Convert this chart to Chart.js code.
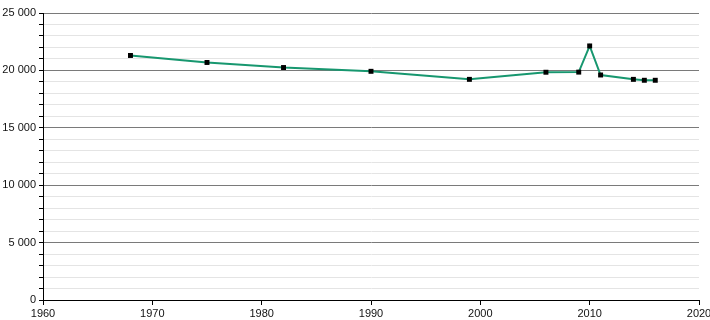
<!DOCTYPE html>
<html><head><meta charset="utf-8">
<script src="https://cdn.jsdelivr.net/npm/chart.js@4/dist/chart.umd.min.js"></script>
<style>html,body{margin:0;padding:0;background:#fff}#w{width:710px;height:320px}</style>
</head><body><div id="w"><canvas id="c"></canvas></div>
<script>
const years = [1968, 1975, 1982, 1990, 1999, 2006, 2009, 2010, 2011, 2014, 2015, 2016];
const population = [21300, 20690, 20250, 19920, 19220, 19840, 19850, 22130, 19600, 19220, 19140, 19140];
const xTicks = [1960, 1970, 1980, 1990, 2000, 2010, 2020];
const yMajorStep = 5000;
const yMinorStep = 1000;

const fmt = v => String(v).replace(/\B(?=(\d{3})+(?!\d))/g, ' ');
Chart.defaults.font.family = '"Liberation Sans", Arial, sans-serif';
Chart.defaults.font.size = 11;
Chart.defaults.color = '#111';

new Chart(document.getElementById('c'), {
  type: 'scatter',
  data: {
    datasets: [{
      data: years.map((y, i) => ({x: y, y: population[i]})),
      showLine: true,
      borderColor: '#17976f',
      borderWidth: 2,
      pointStyle: 'rect',
      pointRadius: 3.5,
      pointBackgroundColor: '#000',
      pointBorderColor: '#000',
      pointBorderWidth: 0,
      tension: 0
    }]
  },
  options: {
    responsive: true,
    maintainAspectRatio: false,
    animation: false,
    plugins: {legend: {display: false}, tooltip: {enabled: false}},
    layout: {padding: {top: 13, right: 0, left: 0, bottom: 0}},
    scales: {
      x: {
        type: 'linear', min: 1960, max: 2020,
        afterBuildTicks: s => { s.ticks = xTicks.map(v => ({value: v})); },
        afterFit: s => { s.height = 20; s.paddingRight = 11; },
        ticks: {callback: v => String(v), padding: 2, maxRotation: 0, autoSkip: false},
        grid: {drawOnChartArea: false, drawTicks: true, tickLength: 5, color: '#000'},
        border: {color: '#000', width: 1}
      },
      y: {
        type: 'linear', min: 0, max: 25000,
        afterBuildTicks: s => { const t = []; for (let v = 0; v <= 25000; v += yMinorStep) t.push({value: v}); s.ticks = t; },
        afterFit: s => { s.width = 43; },
        ticks: {autoSkip: false, padding: 3, callback: v => (v % yMajorStep === 0 ? fmt(v) : '')},
        grid: {
          drawTicks: true, tickLength: 4,
          color: c => (c.tick && c.tick.value % yMajorStep === 0 ? '#7a7a7a' : '#e4e4e4'),
          tickColor: '#000'
        },
        border: {color: '#000', width: 1}
      }
    }
  }
});
</script></body></html>
